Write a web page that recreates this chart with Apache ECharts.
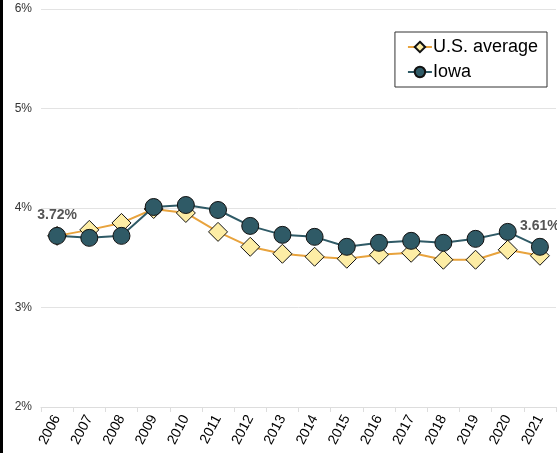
<!DOCTYPE html>
<html>
<head>
<meta charset="utf-8">
<script src="https://cdn.jsdelivr.net/npm/echarts@6/dist/echarts.min.js"></script>
<style>
  html, body { margin: 0; padding: 0; background: #fff; }
  #chart { width: 557px; height: 453px; }
</style>
</head>
<body>
<div id="chart"></div>
<script>
const years = ['2006', '2007', '2008', '2009', '2010', '2011', '2012', '2013',
  '2014', '2015', '2016', '2017', '2018', '2019', '2020', '2021']
const usAverage = [3.72, 3.78, 3.85, 3.99, 3.95, 3.76, 3.61, 3.54,
  3.51, 3.49, 3.53, 3.55, 3.48, 3.48, 3.58, 3.52]
const iowa = [3.72, 3.70, 3.72, 4.01, 4.03, 3.98, 3.82, 3.73,
  3.71, 3.61, 3.65, 3.67, 3.65, 3.69, 3.76, 3.61]

const chart = echarts.init(document.getElementById('chart'))

// 只给第一个和最后一个点加标签
const iowaData = iowa.map((v, i) => {
  const item = { value: v }
  if (i === 0 || i === iowa.length - 1) {
    item.label = {
      show: true,
      position: 'top',
      distance: 5,
      formatter: p => p.value.toFixed(2) + '%',
      fontFamily: 'Liberation Sans, Arial',
      fontWeight: 'bold',
      fontSize: 14,
      color: '#555'
    }
  }
  return item
})

const option = {
  animation: false,
  textStyle: { fontFamily: 'Liberation Sans, Arial' },
  graphic: [
    { type: 'rect', left: 0, top: 0, shape: { width: 3, height: 453 }, style: { fill: '#000' } }
  ],
  grid: { left: 41, right: 1, top: 9, bottom: 46 },
  legend: {
    orient: 'vertical',
    right: 10,
    top: 32,
    itemGap: 7,
    itemWidth: 24,
    itemHeight: 13,
    padding: [6, 9, 6, 12],
    borderColor: '#333',
    borderWidth: 1,
    textStyle: { fontSize: 18, color: '#000', padding: [0, 0, 0, -4] },
    data: ['U.S. average', 'Iowa']
  },
  xAxis: {
    type: 'category',
    data: years,
    axisLine: { lineStyle: { color: '#ddd' } },
    axisTick: { show: true, lineStyle: { color: '#ddd' }, length: 5 },
    axisLabel: { rotate: 62, fontSize: 14, color: '#000', margin: 9 }
  },
  yAxis: {
    type: 'value',
    min: 2,
    max: 6,
    interval: 1,
    axisLine: { show: false },
    axisTick: { show: false },
    axisLabel: { formatter: '{value}%', fontSize: 12, color: '#333', margin: 9 },
    splitLine: { lineStyle: { color: '#e3e3e3' } }
  },
  series: [
    {
      name: 'U.S. average',
      type: 'line',
      data: usAverage,
      symbol: 'diamond',
      symbolSize: 19,
      lineStyle: { color: '#E8A33D', width: 2 },
      itemStyle: { color: '#FDEDA5', borderColor: '#111', borderWidth: 1 }
    },
    {
      name: 'Iowa',
      type: 'line',
      data: iowaData,
      symbol: 'circle',
      symbolSize: 17,
      lineStyle: { color: '#2F5A66', width: 2 },
      itemStyle: { color: '#2F5A66', borderColor: '#111', borderWidth: 1 }
    }
  ]
}

chart.setOption(option)
</script>
</body>
</html>
